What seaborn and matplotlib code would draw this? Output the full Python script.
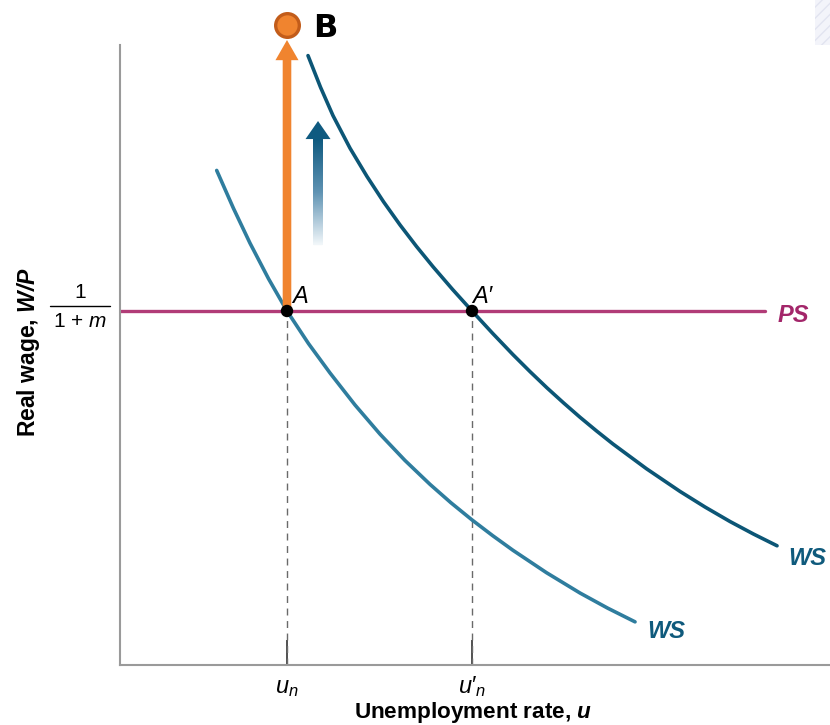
import numpy as np
import matplotlib
matplotlib.use("Agg")
import matplotlib.pyplot as plt
import seaborn as sns
from matplotlib.colors import LinearSegmentedColormap
from matplotlib.patches import Rectangle

# --- Data (labour-market model: wage-setting and price-setting relations) ---
ws_low_u = [1.362, 1.597, 1.831, 2.092, 2.352, 2.655, 2.958, 3.310, 3.662, 4.014,
            4.366, 4.662, 4.958, 5.247, 5.535, 6.007, 6.479, 6.867, 7.254]
ws_low_w = [7.977, 7.368, 6.804, 6.230, 5.71, 5.184, 4.71, 4.194, 3.724, 3.299,
            2.914, 2.616, 2.340, 2.088, 1.850, 1.489, 1.161, 0.918, 0.696]

ws_high_u = [2.648, 2.824, 3.0, 3.240, 3.479, 3.712, 3.944, 4.176, 4.408, 4.683, 4.958,
             5.247, 5.535, 5.775, 6.014, 6.247, 6.479, 6.712, 6.944, 7.416, 7.887,
             8.240, 8.592, 8.923, 9.254]
ws_high_w = [9.829, 9.319, 8.861, 8.335, 7.879, 7.471, 7.098, 6.751, 6.425, 6.059, 5.71,
             5.351, 5.006, 4.732, 4.470, 4.228, 3.996, 3.775, 3.564, 3.165, 2.800,
             2.548, 2.314, 2.112, 1.923]

ps_level = 5.71
ps_end = 9.08
u_n = 2.352
u_n_prime = 4.958

tick_labels = [r"$u_n$", "$u\u2032_{n}$"]
point_labels = ["A", "A\u2032"]

# --- Style ---
sns.set_theme(style="white")
plt.rcParams["font.family"] = ["Liberation Sans", "DejaVu Sans"]
plt.rcParams["text.color"] = "black"
plt.rcParams["mathtext.fontset"] = "custom"
plt.rcParams["mathtext.rm"] = "Liberation Sans"
plt.rcParams["mathtext.it"] = "Liberation Sans:italic"
plt.rcParams["mathtext.bf"] = "Liberation Sans:bold"
try:
    plt.rcParams["mathtext.bfit"] = "Liberation Sans:italic:bold"
    BFIT = True
except KeyError:
    BFIT = False

c_ws_low = "#2f7d9e"
c_ws_high = "#0c5676"
c_ws_text = "#0f5a7c"
c_ps = "#b13c77"
c_ps_text = "#a3266a"
c_orange = "#f0842f"
c_orange_edge = "#c25c1a"
c_blue_arrow = "#0f5a80"

fig = plt.figure(figsize=(8.3, 7.25), dpi=100)
ax = fig.add_axes([120 / 830, 60 / 725, 710 / 830, 620 / 725])

# Wage-setting curves
sns.lineplot(x=ws_low_u, y=ws_low_w, ax=ax, color=c_ws_low, lw=2.6, sort=False, estimator=None, zorder=3)
sns.lineplot(x=ws_high_u, y=ws_high_w, ax=ax, color=c_ws_high, lw=2.6, sort=False, estimator=None, zorder=3)
for ln in ax.lines:
    ln.set_solid_joinstyle("round")

# Price-setting line
sns.lineplot(x=[0, ps_end], y=[ps_level, ps_level], ax=ax, color=c_ps, lw=2.4, zorder=2)

# Dashed drop lines to the axis
ax.vlines([u_n, u_n_prime], 0, ps_level, colors="#6a6a6a", lw=1.0, linestyles=(0, (5, 4)), zorder=1)

# Orange arrow from A up to B
ax.annotate("", xy=(u_n, 10.08), xytext=(u_n, ps_level),
            arrowprops=dict(arrowstyle="simple,head_length=1.45,head_width=1.66,tail_width=0.62",
                            mutation_scale=10, color=c_orange, lw=0, shrinkA=0, shrinkB=0),
            annotation_clip=False, zorder=4)
ax.scatter([u_n], [10.32], s=290, color=c_orange, edgecolor=c_orange_edge, linewidth=2.4,
           clip_on=False, zorder=7)
ax.text(2.887, 10.13, "B", fontsize=23, fontweight="bold", family="DejaVu Sans",
        color="black", ha="center", va="baseline", clip_on=False)

# Blue shift arrow with faded tail
shaft_x = 2.789
ax.annotate("", xy=(shaft_x, 8.774), xytext=(shaft_x, 6.774),
            arrowprops=dict(arrowstyle="simple,head_length=1.3,head_width=1.8,tail_width=0.62",
                            mutation_scale=10, color=c_blue_arrow, lw=0, shrinkA=0, shrinkB=0),
            zorder=4)
grad_cmap = LinearSegmentedColormap.from_list("fade", ["#f2f7fa", "#5f93b3", c_blue_arrow])
grad = np.linspace(0, 1, 200).reshape(-1, 1)
ax.imshow(grad, cmap=grad_cmap, origin="lower", aspect="auto",
          extent=[shaft_x - 0.066, shaft_x + 0.066, 6.774, 8.47], zorder=4.5, interpolation="bilinear")

# Equilibrium points
sns.scatterplot(x=[u_n, u_n_prime], y=[ps_level, ps_level], ax=ax, color="black", s=80,
                edgecolor="none", zorder=6)
ax.text(2.423, 5.839, point_labels[0], fontsize=17, style="italic", ha="left", va="baseline")
ax.text(4.958, 5.839, point_labels[1], fontsize=17, style="italic", ha="left", va="baseline")

# Curve labels
ax.text(9.268, 5.532, "PS", fontsize=17, fontweight="bold", style="italic", color=c_ps_text,
        ha="left", va="baseline", clip_on=False)
ax.text(9.408, 1.613, "WS", fontsize=17, fontweight="bold", style="italic", color=c_ws_text,
        ha="left", va="baseline", clip_on=False)
ax.text(7.423, 0.435, "WS", fontsize=17, fontweight="bold", style="italic", color=c_ws_text,
        ha="left", va="baseline", clip_on=False)

# Axes limits, spines, ticks
ax.set_xlim(0, 10)
ax.set_ylim(0, 10)
for side in ["top", "right"]:
    ax.spines[side].set_visible(False)
for side in ["left", "bottom"]:
    ax.spines[side].set_color("#9a9a9a")
    ax.spines[side].set_linewidth(1.5)

ax.set_yticks([])
ax.set_xticks([u_n, u_n_prime])
ax.set_xticklabels(tick_labels, fontsize=17, color="black")
ax.tick_params(axis="x", direction="in", length=18, width=1.2, color="#333333", pad=20, bottom=True)
for t in ax.get_xticklabels():
    t.set_va("baseline")

# Real wage level 1/(1+m) on the vertical axis
ax.text(-0.563, 6.01, "1", fontsize=15, ha="center", va="center", clip_on=False)
ax.plot([-0.986, -0.141], [5.79, 5.79], color="black", lw=1.0, clip_on=False)
ax.text(-0.563, 5.54, r"1 $+$ $m$", fontsize=15, ha="center", va="center", clip_on=False)

# Axis titles
u_sym = r"$\mathbfit{u}$" if BFIT else r"$\mathbf{u}$"
wp_sym = r"$\mathbfit{W/P}$" if BFIT else r"$\mathbf{W/P}$"
fig.text(473 / 830, 1 - 718 / 725, "Unemployment rate, " + u_sym, fontsize=16.2,
         fontweight="bold", ha="center", va="baseline")
fig.text(28 / 830, 1 - 352.5 / 725, "Real wage, " + wp_sym, fontsize=16.5,
         fontweight="bold", ha="center", va="center", rotation=90)

# faint hatched tab in the top-right corner
fig.patches.append(Rectangle((815 / 830, 1 - 45 / 725), 15 / 830, 45 / 725, transform=fig.transFigure,
                             facecolor="#f3f4fa", edgecolor="#e2e4f0", hatch="///", lw=0, zorder=0))

fig.savefig("out.png", dpi=100)
